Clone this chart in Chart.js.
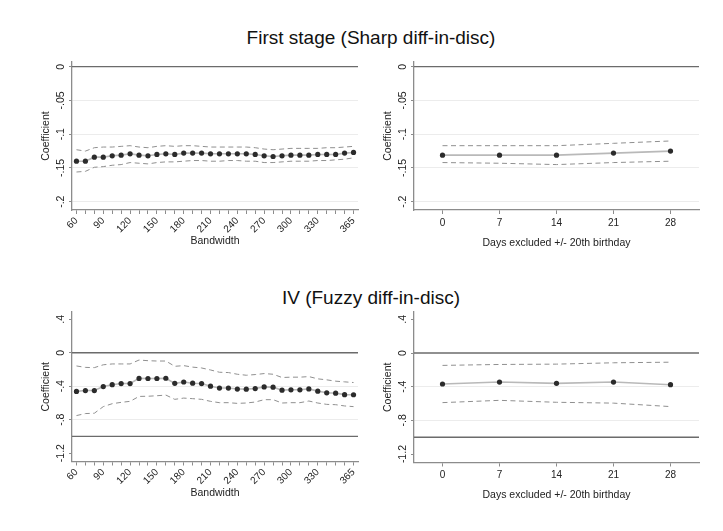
<!DOCTYPE html>
<html><head><meta charset="utf-8">
<script src="https://cdn.jsdelivr.net/npm/chart.js@4.4.1/dist/chart.umd.min.js"></script>
<style>
html,body{margin:0;padding:0;background:#fff;}
body{width:723px;height:531px;position:relative;overflow:hidden;font-family:"Liberation Sans",Arial,sans-serif;}
.ttl{position:absolute;left:0;width:742px;text-align:center;font-size:19px;line-height:19px;color:#111;white-space:nowrap;}
canvas{position:absolute;}
</style></head><body>
<div class="ttl" style="top:28px">First stage (Sharp diff-in-disc)</div>
<div class="ttl" style="top:288px">IV (Fuzzy diff-in-disc)</div>
<canvas id="c1" width="322" height="197" style="left:40px;top:50px"></canvas>
<canvas id="c2" width="321" height="199" style="left:382px;top:50px"></canvas>
<canvas id="c3" width="322" height="199" style="left:40px;top:300px"></canvas>
<canvas id="c4" width="321" height="201" style="left:382px;top:300px"></canvas>
<script>
// ---------- DATA ----------
const bandwidths = ['60','70','80','90','100','110','120','130','140','150','160','170','180','190','200','210','220','230','240','250','260','270','280','290','300','310','320','330','340','350','360','365'];
const bandwidthTickLabels = ['60','90','120','150','180','210','240','270','300','330','365'];
const daysExcluded = [0, 7, 14, 21, 28];

// First stage vs bandwidth
const fsCoef  = [-0.140,-0.140,-0.134,-0.134,-0.132,-0.131,-0.129,-0.131,-0.132,-0.130,-0.129,-0.130,-0.128,-0.128,-0.128,-0.129,-0.129,-0.129,-0.129,-0.129,-0.130,-0.132,-0.133,-0.132,-0.131,-0.131,-0.131,-0.130,-0.130,-0.130,-0.128,-0.127];
const fsUpper = [-0.123,-0.125,-0.120,-0.119,-0.119,-0.118,-0.117,-0.119,-0.120,-0.118,-0.117,-0.118,-0.117,-0.117,-0.118,-0.119,-0.119,-0.119,-0.119,-0.119,-0.120,-0.122,-0.123,-0.122,-0.121,-0.121,-0.121,-0.121,-0.120,-0.120,-0.119,-0.118];
const fsLower = [-0.156,-0.155,-0.149,-0.148,-0.146,-0.145,-0.142,-0.143,-0.144,-0.142,-0.141,-0.141,-0.140,-0.139,-0.139,-0.140,-0.140,-0.139,-0.139,-0.140,-0.140,-0.142,-0.142,-0.141,-0.140,-0.140,-0.140,-0.139,-0.139,-0.138,-0.137,-0.135];

// First stage vs days excluded
const fsDaysCoef  = [-0.131,-0.131,-0.131,-0.128,-0.125];
const fsDaysUpper = [-0.117,-0.117,-0.117,-0.1135,-0.110];
const fsDaysLower = [-0.142,-0.143,-0.145,-0.142,-0.140];

// IV vs bandwidth
const ivCoef  = [-0.462,-0.452,-0.452,-0.404,-0.382,-0.368,-0.368,-0.307,-0.308,-0.308,-0.305,-0.366,-0.350,-0.364,-0.368,-0.400,-0.422,-0.422,-0.434,-0.435,-0.428,-0.408,-0.411,-0.447,-0.443,-0.443,-0.432,-0.459,-0.479,-0.483,-0.501,-0.502];
const ivUpper = [-0.158,-0.175,-0.178,-0.144,-0.134,-0.134,-0.134,-0.087,-0.095,-0.099,-0.099,-0.162,-0.154,-0.172,-0.182,-0.206,-0.233,-0.237,-0.257,-0.269,-0.261,-0.249,-0.257,-0.296,-0.292,-0.292,-0.285,-0.312,-0.324,-0.340,-0.348,-0.356];
const ivLower = [-0.751,-0.727,-0.723,-0.644,-0.609,-0.593,-0.581,-0.522,-0.520,-0.514,-0.506,-0.557,-0.542,-0.549,-0.557,-0.581,-0.597,-0.597,-0.605,-0.601,-0.589,-0.561,-0.561,-0.601,-0.597,-0.597,-0.577,-0.601,-0.617,-0.621,-0.636,-0.644];

// IV vs days excluded
const ivDaysCoef  = [-0.368,-0.345,-0.360,-0.345,-0.376];
const ivDaysUpper = [-0.147,-0.136,-0.132,-0.116,-0.109];
const ivDaysLower = [-0.589,-0.562,-0.585,-0.595,-0.636];

// Axis ticks
const yTicksTop = [0, -0.05, -0.1, -0.15, -0.2];
const yTickLabelsTop = ['0', '-.05', '-.1', '-.15', '-.2'];
const yTicksBottom = [0.4, 0, -0.4, -0.8, -1.2];
const yTickLabelsBottom = ['.4', '0', '-.4', '-.8', '-1.2'];
const refLinesTop = [0];
const refLinesBottom = [0, -1];

// ---------- STYLE / HELPERS ----------
const FONT = '"Liberation Sans", Arial, Helvetica, sans-serif';
const AXIS = '#8c8c8c';
const TXT = '#222222';

const rotYLabels = {
  id: 'rotYLabels',
  afterDraw(chart, args, opts) {
    const s = chart.scales.y, ctx = chart.ctx;
    ctx.save();
    ctx.font = '10.5px ' + FONT;
    ctx.fillStyle = TXT; ctx.textAlign = 'center'; ctx.textBaseline = 'middle';
    opts.values.forEach((v, i) => {
      const y = s.getPixelForValue(v);
      ctx.save(); ctx.translate(s.right - opts.gap, y); ctx.rotate(-Math.PI / 2);
      ctx.fillText(opts.labels[i], 0, 0); ctx.restore();
    });
    ctx.restore();
  }
};
const refLines = {
  id: 'refLines',
  beforeDatasetsDraw(chart, args, opts) {
    const s = chart.scales.y, a = chart.chartArea, ctx = chart.ctx;
    ctx.save(); ctx.strokeStyle = '#6b6b6b'; ctx.lineWidth = 1.3;
    opts.values.forEach(v => {
      const y = s.getPixelForValue(v);
      ctx.beginPath(); ctx.moveTo(a.left, y); ctx.lineTo(a.right, y); ctx.stroke();
    });
    ctx.restore();
  }
};

function ciSet(data) {
  return {data, borderColor: '#8f8f8f', borderWidth: 1, borderDash: [5, 3.5], pointRadius: 0, fill: false, tension: 0};
}
function mainSet(data) {
  return {data, borderColor: '#b9b9b9', borderWidth: 1.6, pointRadius: 2.6, pointBackgroundColor: '#2b2b2b', pointBorderColor: '#2b2b2b', pointBorderWidth: 0, fill: false, tension: 0};
}
function xy(xs, ys) { return ys.map((y, i) => ({x: xs[i], y})); }

function yScale(min, max, ticks, grids, gap) {
  return {
    type: 'linear', min, max,
    afterBuildTicks: s => { s.ticks = ticks.map(v => ({value: v})); },
    grid: {color: c => (c.tick && grids.includes(c.tick.value)) ? '#ececec' : 'rgba(0,0,0,0)', lineWidth: 1, drawTicks: true, tickLength: 3, tickColor: AXIS, tickWidth: 1},
    border: {color: AXIS, width: 1.3},
    ticks: {display: false},
    title: {display: true, text: 'Coefficient', font: {family: FONT, size: 10.5}, color: TXT, padding: 0},
    afterFit: s => { s.width = 32; s.paddingTop = 0; s.paddingBottom = 0; }
  };
}
function xBandScale(h) {
  return {
    type: 'category', offset: true,
    grid: {drawOnChartArea: false, drawTicks: true, tickLength: 4, tickColor: AXIS, tickWidth: 1},
    border: {color: AXIS, width: 1.3},
    ticks: {autoSkip: false, minRotation: 45, maxRotation: 45, padding: 1, font: {family: FONT, size: 10}, color: TXT,
      callback: (v, i) => bandwidthTickLabels.includes(bandwidths[i]) ? bandwidths[i] : ''},
    title: {display: true, text: 'Bandwidth', font: {family: FONT, size: 10.5}, color: TXT, padding: 0},
    afterFit: s => { s.height = h; s.paddingLeft = 0; s.paddingRight = 0; }
  };
}
function xDaysScale(h) {
  return {
    type: 'linear', min: -3.5, max: 31.5,
    afterBuildTicks: s => { s.ticks = daysExcluded.map(v => ({value: v})); },
    grid: {drawOnChartArea: false, drawTicks: true, tickLength: 4, tickColor: AXIS, tickWidth: 1},
    border: {color: AXIS, width: 1.3},
    ticks: {padding: 3, font: {family: FONT, size: 10}, color: TXT, maxRotation: 0, minRotation: 0},
    title: {display: true, text: 'Days excluded +/- 20th birthday', font: {family: FONT, size: 10.5}, color: TXT, padding: 0},
    afterFit: s => { s.height = h; s.paddingLeft = 0; s.paddingRight = 0; }
  };
}
function baseOpts(xs, ys, yLabs, yVals, refs) {
  return {
    responsive: false, animation: false, events: [],
    layout: {padding: {top: 12, left: 0, right: 0, bottom: 0}},
    scales: {x: xs, y: ys},
    plugins: {legend: {display: false}, tooltip: {enabled: false},
      rotYLabels: {values: yVals, labels: yLabs, gap: 10.5},
      refLines: {values: refs}}
  };
}

Chart.defaults.font.family = FONT;

new Chart(document.getElementById('c1'), {
  type: 'line',
  data: {labels: bandwidths, datasets: [mainSet(fsCoef), ciSet(fsUpper), ciSet(fsLower)]},
  options: baseOpts(xBandScale(37), yScale(-0.2123, 0.007, yTicksTop, [-0.05, -0.1, -0.15, -0.2]), yTickLabelsTop, yTicksTop, refLinesTop),
  plugins: [rotYLabels, refLines]
});
new Chart(document.getElementById('c2'), {
  type: 'line',
  data: {datasets: [mainSet(xy(daysExcluded, fsDaysCoef)), ciSet(xy(daysExcluded, fsDaysUpper)), ciSet(xy(daysExcluded, fsDaysLower))]},
  options: baseOpts(xDaysScale(39), yScale(-0.2123, 0.007, yTicksTop, [-0.05, -0.1, -0.15, -0.2]), yTickLabelsTop, yTicksTop, refLinesTop),
  plugins: [rotYLabels, refLines]
});
new Chart(document.getElementById('c3'), {
  type: 'line',
  data: {labels: bandwidths, datasets: [mainSet(ivCoef), ciSet(ivUpper), ciSet(ivLower)]},
  options: baseOpts(xBandScale(37.5), yScale(-1.30, 0.487, yTicksBottom, [-0.4, -0.8]), yTickLabelsBottom, yTicksBottom, refLinesBottom),
  plugins: [rotYLabels, refLines]
});
new Chart(document.getElementById('c4'), {
  type: 'line',
  data: {datasets: [mainSet(xy(daysExcluded, ivDaysCoef)), ciSet(xy(daysExcluded, ivDaysUpper)), ciSet(xy(daysExcluded, ivDaysLower))]},
  options: baseOpts(xDaysScale(38.5), yScale(-1.30, 0.487, yTicksBottom, [-0.4, -0.8]), yTickLabelsBottom, yTicksBottom, refLinesBottom),
  plugins: [rotYLabels, refLines]
});
</script>
</body></html>
